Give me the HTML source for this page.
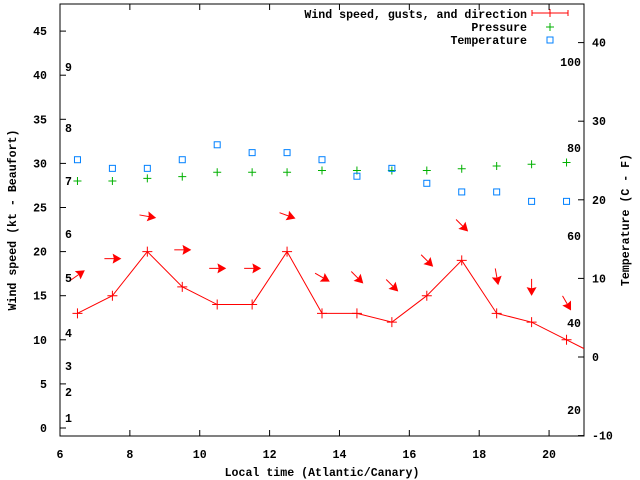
<!DOCTYPE html>
<html><head><meta charset="utf-8"><style>
body{margin:0;background:#fff}
svg{display:block}
text{font-family:"Liberation Mono",monospace;font-size:11.6px;font-weight:bold;fill:#000}
</style></head><body>
<svg id="chart" width="640" height="480" viewBox="0 0 640 480" xmlns="http://www.w3.org/2000/svg">
<g id="axes"></g>
<g id="series"></g>
<g id="legend">
<text x="527" y="18" text-anchor="end">Wind speed, gusts, and direction</text>
<line x1="532" y1="13" x2="568" y2="13" stroke="#f00"/>
<line x1="532" y1="10" x2="532" y2="16" stroke="#f00"/>
<line x1="568" y1="10" x2="568" y2="16" stroke="#f00"/>
<path d="M546 13h8M550 9v8" stroke="#f00"/>
<text x="527" y="31" text-anchor="end">Pressure</text>
<path d="M546 27h8M550 23v8" stroke="#00b000"/>
<text x="527" y="44" text-anchor="end">Temperature</text>
<rect x="547" y="37" width="6" height="6" fill="none" stroke="#0080ff"/>
</g>
</svg>
<script>
const times=[6.5,7.5,8.5,9.5,10.5,11.5,12.5,13.5,14.5,15.5,16.5,17.5,18.5,19.5,20.5];
const wind=[13,15,20,16,14,14,20,13,13,12,15,19,13,12,10];
const windEnd=[21,9];
const gust=[17.3,19.2,24,20.2,18.1,18.1,24.1,17.1,17.1,16.2,19,23,17.2,16,14.2];
const dirAngle=[-35,0,10,0,0,0,20,30,45,45,45,45,80,90,60];
const pressure=[28,28,28.3,28.5,29,29,29,29.2,29.2,29.2,29.2,29.4,29.7,29.9,30.1];
const temperature=[25.1,24,24,25.1,27,26,26,25.1,23,24,22.1,21,21,19.8,19.8];
const xTicks=[6,8,10,12,14,16,18,20];
const yTicks=[0,5,10,15,20,25,30,35,40,45];
const tTicks=[-10,0,10,20,30,40];
const beaufort=[[1,418],[2,392],[3,366],[4,333],[5,278],[6,234],[7,181],[8,128],[9,67]];
const fahr=[[100,62],[80,148],[60,236],[40,323],[20,410]];

const L=60,R=584,T=4,B=436;
const X=v=>L+(v-6)*(R-L)/15;
const Y=v=>428-v*8.82;
const TY=v=>357-v*7.86;
const NS="http://www.w3.org/2000/svg";
function mk(tag,attrs,parent,txt){const e=document.createElementNS(NS,tag);for(const k in attrs)e.setAttribute(k,attrs[k]);if(txt!==undefined)e.textContent=txt;parent.appendChild(e);return e;}
const ax=document.getElementById('axes'),sr=document.getElementById('series');

let e=mk('rect',{x:L,y:T,width:R-L,height:B-T,fill:'none',stroke:'#000'},ax);


xTicks.forEach(t=>{
 e=mk('path',{d:`M${X(t)} ${B}v-6M${X(t)} ${T}v6`,stroke:'#000'},ax);
 
 
 e=mk('text',{x:X(t),y:458,'text-anchor':'middle'},ax,String(t));
 
 
});
yTicks.forEach(t=>{
 e=mk('path',{d:`M${L} ${Y(t)}h6`,stroke:'#000'},ax);
 
 
 e=mk('text',{x:47,y:Y(t)+4,'text-anchor':'end'},ax,String(t));
 
 
});
tTicks.forEach(t=>{
 e=mk('path',{d:`M${R} ${TY(t)}h-6`,stroke:'#000'},ax);
 
 
 e=mk('text',{x:592,y:TY(t)+4},ax,String(t));
 
 
});
beaufort.forEach(b=>{
 e=mk('text',{x:65,y:b[1]+4},ax,String(b[0]));
 
 
});
fahr.forEach(f=>{
 e=mk('text',{x:581,y:f[1]+4,'text-anchor':'end'},ax,String(f[0]));
 
 
});
e=mk('text',{x:322,y:476,'text-anchor':'middle'},ax,'Local time (Atlantic/Canary)');


e=mk('text',{x:0,y:0,'text-anchor':'middle',transform:'translate(16,220) rotate(-90)'},ax,'Wind speed (kt - Beaufort)');


e=mk('text',{x:0,y:0,'text-anchor':'middle',transform:'translate(629,220) rotate(-90)'},ax,'Temperature (C - F)');



// wind line
let pts=times.map((t,i)=>X(t)+','+Y(wind[i])).join(' ')+' '+X(windEnd[0])+','+Y(windEnd[1]);
e=mk('polyline',{points:pts,fill:'none',stroke:'#f00'},sr);


times.forEach((t,i)=>{
 const x=X(t),y=Y(wind[i]);
 e=mk('path',{d:`M${x-5} ${y}h10M${x} ${y-5}v10`,stroke:'#f00'},sr);
 
 
 // pressure
 const py=Y(pressure[i]);
 e=mk('path',{d:`M${x-4} ${py}h8M${x} ${py-4}v8`,stroke:'#00b000'},sr);
 
 
 // temperature
 const ty=TY(temperature[i]);
 e=mk('rect',{x:x-3,y:ty-3,width:6,height:6,fill:'none',stroke:'#0080ff'},sr);
 
 
 // direction arrow
 const gy=Y(gust[i]);
 const g=mk('g',{transform:`translate(${x},${gy}) rotate(${dirAngle[i]})`},sr);
 
 
 mk('line',{x1:-8,y1:0,x2:6,y2:0,stroke:'#f00'},g);
 mk('path',{d:'M8 0L1 -4L2 0L1 4Z',fill:'#f00',stroke:'#f00'},g);
});
</script>
</body></html>
